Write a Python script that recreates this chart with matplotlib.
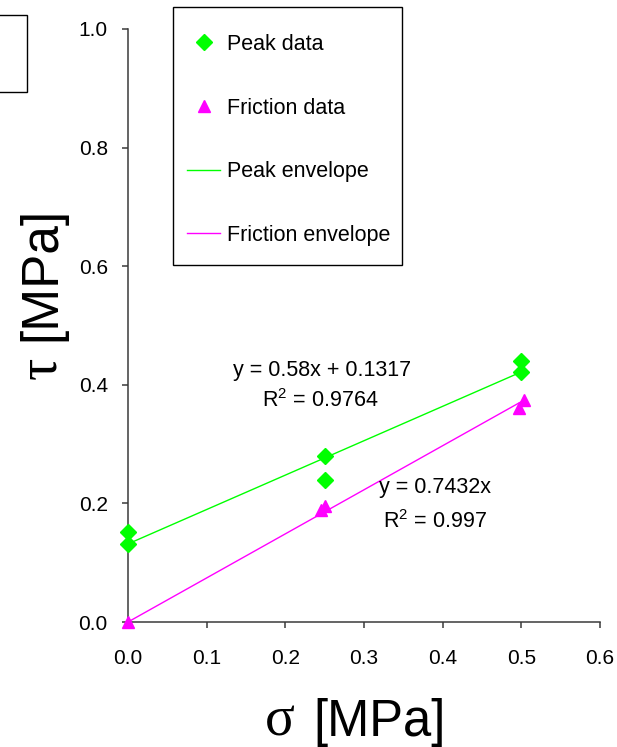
import numpy as np
import matplotlib.pyplot as plt
from matplotlib.patches import Rectangle

plt.rcParams['font.family'] = ['Liberation Sans', 'DejaVu Sans']
plt.rcParams['mathtext.fontset'] = 'custom'
plt.rcParams['mathtext.rm'] = 'Liberation Sans'
plt.rcParams['mathtext.it'] = 'Liberation Sans'

W, H = 617, 747

# shear test results, normal stress sigma vs shear stress tau [MPa]
peak_sigma = [0.0, 0.0, 0.25, 0.25, 0.5, 0.5]
peak_tau = [0.152, 0.131, 0.280, 0.240, 0.440, 0.421]
fric_sigma = [0.0, 0.2455, 0.25, 0.497, 0.503]
fric_tau = [0.0, 0.189, 0.196, 0.361, 0.374]

# linear envelopes (trendlines)
peak_slope, peak_icpt, peak_r2 = 0.58, 0.1317, 0.9764
fric_slope, fric_r2 = 0.7432, 0.997

x_ticks = [0.0, 0.1, 0.2, 0.3, 0.4, 0.5, 0.6]
y_ticks = [0.0, 0.2, 0.4, 0.6, 0.8, 1.0]

GREEN = '#00FF00'
MAGENTA = '#FF00FF'
AXIS_COL = '#3a3a3a'


def px(x, y):
    # pixel position (from top-left) -> figure fraction
    return x / W, 1 - y / H


fig = plt.figure(figsize=(W / 100, H / 100), dpi=100)
ax = fig.add_axes([128 / W, 1 - 622 / H, (600 - 128) / W, (622 - 29) / H])

env_x = np.array([0.0, 0.5])
ax.plot(peak_sigma, peak_tau, linestyle='none', marker='D', ms=8,
        color=GREEN, mec=GREEN, label='Peak data', zorder=4, clip_on=False)
ax.plot(fric_sigma, fric_tau, linestyle='none', marker='^', ms=8,
        color=MAGENTA, mec=MAGENTA, label='Friction data', zorder=4, clip_on=False)
ax.plot(env_x, peak_slope * env_x + peak_icpt, color=GREEN, lw=1.0,
        label='Peak envelope', zorder=3)
ax.plot(env_x, fric_slope * env_x, color=MAGENTA, lw=1.0,
        label='Friction envelope', zorder=3)

ax.set_xlim(0, 0.6)
ax.set_ylim(0, 1.0)
ax.set_xticks(x_ticks)
ax.set_yticks(y_ticks)
ax.set_xticklabels([f'{v:.1f}' for v in x_ticks])
ax.set_yticklabels([f'{v:.1f}' for v in y_ticks])

for side in ['top', 'right']:
    ax.spines[side].set_visible(False)
for side in ['left', 'bottom']:
    ax.spines[side].set_color(AXIS_COL)
    ax.spines[side].set_linewidth(1.1)
ax.tick_params(axis='both', direction='out', length=4.5, width=1.1,
               color=AXIS_COL, labelsize=15, labelcolor='black')
ax.tick_params(axis='x', pad=15)
ax.tick_params(axis='y', pad=10)

# trendline equations
ax.text(0.247, 0.415, f'y = {peak_slope}x + {peak_icpt}', fontsize=15.5,
        ha='center', va='baseline')
ax.text(0.244, 0.3626, f'R$^2$ = {peak_r2}', fontsize=15.5, ha='center', va='baseline')
ax.text(0.390, 0.2175, f'y = {fric_slope}x', fontsize=15.5, ha='center', va='baseline')
ax.text(0.390, 0.1585, f'R$^2$ = {fric_r2}', fontsize=15.5, ha='center', va='baseline')

# legend with a hand-placed frame
leg = ax.legend(loc='upper left', bbox_to_anchor=px(187, 34),
                bbox_transform=fig.transFigure, frameon=False, fontsize=15.5,
                borderpad=0, borderaxespad=0, numpoints=1, handlelength=1.55,
                handletextpad=0.33, labelspacing=1.98)
fig.patches.append(Rectangle(px(173, 265), (402 - 173) / W, (265 - 7) / H,
                             transform=fig.transFigure, fill=False,
                             edgecolor='black', lw=1.0))

# empty box at the upper left corner
fig.patches.append(Rectangle(px(-3, 92), 30 / W, (92 - 15) / H,
                             transform=fig.transFigure, fill=False,
                             edgecolor='black', lw=1.0))

# axis titles: greek symbol in a serif face, unit in sans
fig.text(*px(295, 736), 'σ', family='Liberation Serif', fontsize=40,
         ha='right', va='baseline')
fig.text(*px(313, 736), '[MPa]', fontsize=36.5, ha='left', va='baseline')
fig.text(*px(55, 357), 'τ', family='Liberation Serif', fontsize=40,
         ha='right', va='baseline', rotation=90, rotation_mode='anchor')
fig.text(*px(55, 341), '[MPa]', fontsize=37, ha='left', va='baseline',
         rotation=90, rotation_mode='anchor')

fig.savefig('out.png', dpi=100)
